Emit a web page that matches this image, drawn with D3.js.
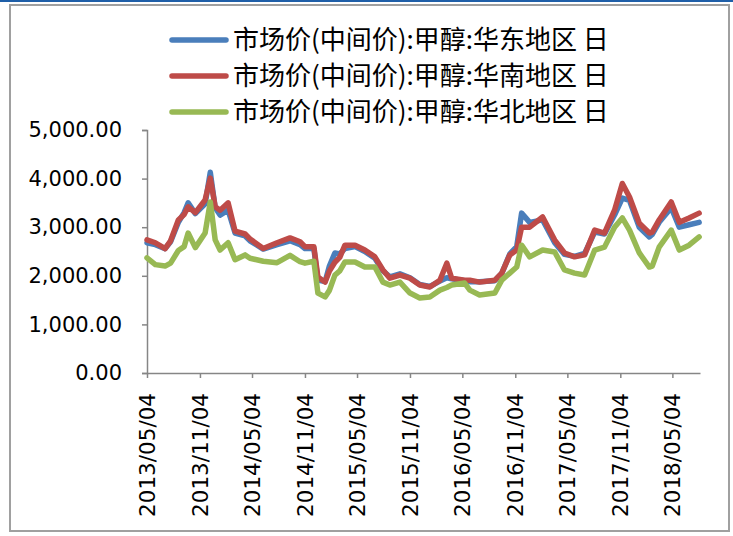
<!DOCTYPE html>
<html>
<head>
<meta charset="utf-8">
<script src="https://cdn.jsdelivr.net/npm/d3@7"></script>
<style>
  body { margin: 0; background: #fff; }
  svg text { fill: #000; }
</style>
</head>
<body>
<div id="graph"></div>
<script>
'use strict';

// series names as shown in the legend
const seriesNames = [
  '市场价(中间价):甲醇:华东地区 日',
  '市场价(中间价):甲醇:华南地区 日',
  '市场价(中间价):甲醇:华北地区 日'
];
const seriesColors = ['#4a7ebb', '#be4b48', '#98b954'];

const dates = [
  '2013-05-04', '2013-06-02', '2013-07-06', '2013-07-25', '2013-08-21', '2013-09-10',
  '2013-09-24', '2013-10-19', '2013-11-22', '2013-12-10', '2013-12-27', '2014-01-13',
  '2014-02-10', '2014-03-06', '2014-04-10', '2014-04-27', '2014-06-12', '2014-07-30',
  '2014-09-13', '2014-10-18', '2014-11-04', '2014-12-05', '2014-12-19', '2015-01-13',
  '2015-01-28', '2015-02-16', '2015-03-05', '2015-03-23', '2015-04-27', '2015-05-31',
  '2015-07-05', '2015-08-02', '2015-08-26', '2015-09-30', '2015-11-04', '2015-12-08',
  '2016-01-12', '2016-02-16', '2016-03-11', '2016-03-28', '2016-05-12', '2016-05-30',
  '2016-07-03', '2016-08-25', '2016-09-18', '2016-10-16', '2016-11-09', '2016-11-26',
  '2016-12-24', '2017-02-07', '2017-03-21', '2017-04-24', '2017-05-29', '2017-07-03',
  '2017-08-07', '2017-09-10', '2017-10-15', '2017-11-11', '2017-12-06', '2018-01-09',
  '2018-02-13', '2018-02-23', '2018-03-19', '2018-04-30', '2018-05-28', '2018-07-01',
  '2018-08-05'
];

const east = [
  2680, 2640, 2560, 2700, 3100, 3300,
  3500, 3280, 3480, 4130, 3400, 3250,
  3350, 2880, 2820, 2720, 2550, 2640,
  2720, 2640, 2560, 2560, 1910, 1880,
  2200, 2470, 2450, 2560, 2600, 2500,
  2360, 2100, 1980, 2040, 1960, 1820,
  1780, 1890, 1960, 1940, 1900, 1880,
  1880, 1900, 2050, 2450, 2600, 3290,
  3100, 3150, 2680, 2440, 2400, 2460,
  2900, 2860, 3250, 3600, 3550, 3000,
  2800, 2850, 3100, 3400, 3000, 3050,
  3100
];

const south = [
  2740, 2680, 2560, 2720, 3150, 3260,
  3420, 3300, 3560, 4010, 3420, 3350,
  3500, 2920, 2860, 2760, 2560, 2680,
  2780, 2700, 2600, 2600, 1975, 1870,
  2100, 2280, 2380, 2630, 2630, 2530,
  2390, 2120, 1950, 2015, 1950, 1810,
  1770, 1910, 2260, 1950, 1910, 1910,
  1870, 1910, 2055, 2430, 2530, 3000,
  3000, 3210, 2735, 2470, 2390, 2430,
  2940, 2880, 3350, 3900, 3620, 3080,
  2880, 2900, 3150, 3520, 3100, 3190,
  3290
];

const north = [
  2370, 2230, 2200, 2260, 2520, 2600,
  2880, 2580, 2880, 3520, 2740, 2530,
  2680, 2330, 2430, 2360, 2300, 2270,
  2420, 2290, 2260, 2300, 1645, 1565,
  1700, 2015, 2100, 2285, 2285, 2180,
  2180, 1870, 1810, 1870, 1645, 1545,
  1565, 1705, 1760, 1810, 1850, 1705,
  1605, 1645, 1910, 2055, 2180, 2630,
  2390, 2530, 2490, 2120, 2055, 2015,
  2530, 2590, 3000, 3190, 2940, 2470,
  2180, 2200, 2590, 2940, 2530, 2630,
  2800
];

const yTicks = [0, 1000, 2000, 3000, 4000, 5000];
const xTickLabels = [
  '2013/05/04', '2013/11/04', '2014/05/04', '2014/11/04', '2015/05/04', '2015/11/04',
  '2016/05/04', '2016/11/04', '2017/05/04', '2017/11/04', '2018/05/04'
];
const xStart = '2013-05-04';
const xEnd = '2018-08-08';

const parseDate = d3.timeParse('%Y-%m-%d');
const parseTick = d3.timeParse('%Y/%m/%d');

const width = 733, height = 536;
const svg = d3.select('#graph').append('svg')
  .attr('width', width)
  .attr('height', height);

// page frame
svg.append('rect')
  .attr('x', 0).attr('y', 0)
  .attr('width', width).attr('height', 2)
  .attr('fill', '#1f5fa8');
svg.append('rect')
  .attr('x', 10).attr('y', 5)
  .attr('width', 719).attr('height', 526)
  .attr('fill', 'none')
  .attr('stroke', '#a0a0a0')
  .attr('stroke-width', 2);

const xScale = d3.scaleTime()
  .domain([parseDate(xStart), parseDate(xEnd)])
  .range([147, 700]);
const yScale = d3.scaleLinear()
  .domain([0, 5000])
  .range([373, 130]);

// y axis
const yAxis = d3.axisLeft(yScale)
  .tickValues(yTicks)
  .tickSize(5)
  .tickPadding(20)
  .tickFormat(d3.format(',.2f'));
const gy = svg.append('g')
  .attr('transform', 'translate(147,0)')
  .call(yAxis);
gy.select('.domain').attr('stroke', '#868686').attr('stroke-width', 1.5);
gy.selectAll('.tick line').attr('stroke', '#868686').attr('stroke-width', 1.5);
gy.selectAll('.tick text')
  .style('font-family', '"DejaVu Sans", sans-serif')
  .style('font-size', '21px');

// x axis
const xAxis = d3.axisBottom(xScale)
  .tickValues(xTickLabels.map(parseTick))
  .tickSize(5)
  .tickSizeOuter(0)
  .tickFormat(d3.timeFormat('%Y/%m/%d'));
const gx = svg.append('g')
  .attr('transform', 'translate(0,373)')
  .call(xAxis);
gx.select('.domain').attr('stroke', '#868686').attr('stroke-width', 1.5);
gx.selectAll('.tick line').attr('stroke', '#868686').attr('stroke-width', 1.5);
gx.selectAll('.tick text')
  .attr('transform', 'rotate(-90)')
  .attr('text-anchor', 'end')
  .attr('x', -20)
  .attr('y', 0)
  .attr('dy', '0.35em')
  .style('font-family', '"DejaVu Sans", sans-serif')
  .style('font-size', '21.5px');

// lines
const allSeries = [east, south, north];
const line = d3.line()
  .x((d, i) => xScale(parseDate(dates[i])))
  .y(d => yScale(d));

allSeries.forEach((vals, k) => {
  svg.append('path')
    .datum(vals)
    .attr('fill', 'none')
    .attr('stroke', seriesColors[k])
    .attr('stroke-width', 5.5)
    .attr('stroke-linejoin', 'round')
    .attr('stroke-linecap', 'round')
    .attr('d', line);
});

// legend
const legend = svg.append('g');
seriesNames.forEach((name, k) => {
  const ly = 40 + k * 36;
  legend.append('line')
    .attr('x1', 172).attr('x2', 226)
    .attr('y1', ly).attr('y2', ly)
    .attr('stroke', seriesColors[k])
    .attr('stroke-width', 5.5)
    .attr('stroke-linecap', 'round');
  legend.append('text')
    .attr('x', 233)
    .attr('y', ly)
    .attr('dy', '0.35em')
    .style('font-family', '"Noto Sans CJK SC", sans-serif')
    .style('font-size', '26px')
    .text(name);
});
</script>
</body>
</html>
